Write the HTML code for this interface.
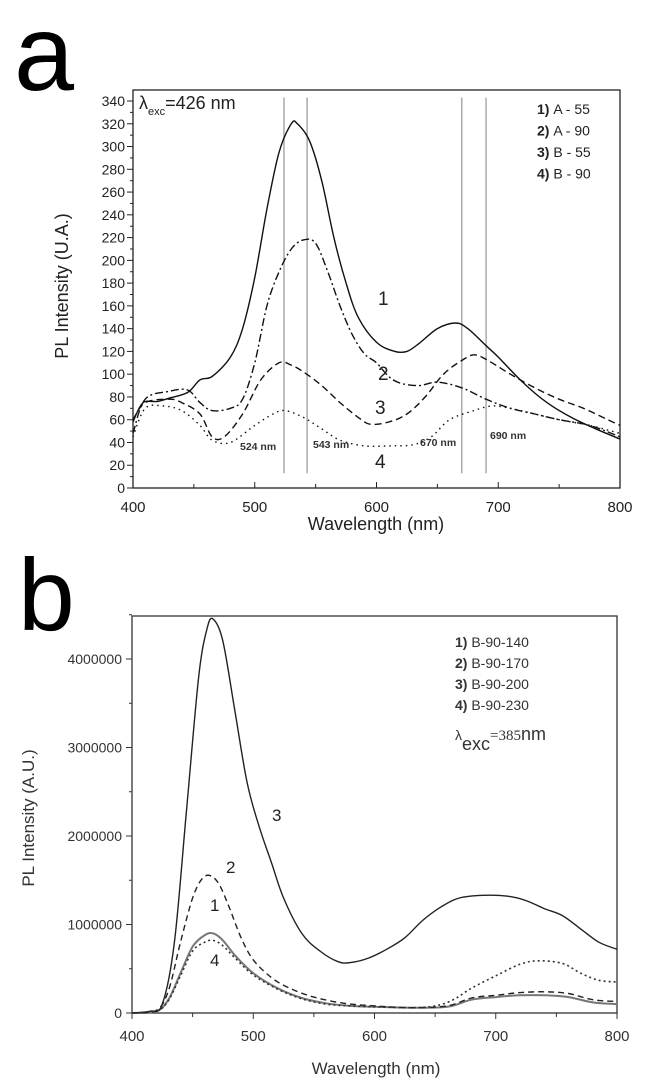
<!DOCTYPE html>
<html><head><meta charset="utf-8">
<style>
html,body{margin:0;padding:0;background:#fff;}
body{width:667px;height:1089px;overflow:hidden;}
svg{display:block;font-family:"Liberation Sans",Arial,sans-serif;}
</style></head>
<body>
<svg id="fig" width="667" height="1089" viewBox="0 0 667 1089">
<text x="14" y="90" font-size="108">a</text>
<text x="18" y="630" font-size="102">b</text>
<g id="chartA"></g>
<g id="chartB"></g>
</svg>
<script>
// ---- Chart A data ----
const aXTicks = [400,500,600,700,800];
const aYTicks = [0,20,40,60,80,100,120,140,160,180,200,220,240,260,280,300,320,340];
const aS1x = [400,405,410,420,430,445,455,465,480,490,500,510,520,530,535,545,555,565,575,585,600,615,625,635,650,665,675,690,700,720,740,760,780,800];
const aS1y = [58,70,76,76,79,84,95,98,115,140,185,245,295,320,320,305,270,220,180,150,128,120,120,127,140,145,140,125,115,93,75,62,52,43];
const aS2x = [400,410,430,445,455,465,480,490,500,510,520,530,540,550,560,570,580,590,600,610,620,635,650,670,690,710,730,750,775,800];
const aS2y = [48,78,85,86,75,68,70,78,110,160,190,210,218,215,190,160,135,118,110,98,92,90,93,88,78,70,65,60,55,45];
const aS3x = [400,410,430,440,455,465,475,490,505,520,530,540,555,570,585,595,610,625,640,655,670,680,690,710,730,750,770,790,800];
const aS3y = [60,75,78,75,65,45,45,65,95,110,108,102,90,75,62,56,58,65,80,100,112,117,113,100,88,78,70,60,55];
const aS4x = [400,410,425,440,455,465,480,500,515,525,540,555,570,590,610,630,645,660,680,695,710,730,750,775,800];
const aS4y = [45,70,72,68,55,42,40,55,65,68,62,52,42,37,37,38,45,60,68,72,70,65,60,55,48];
const aMarkers = [524,543,670,690];
const aLegend = ["A - 55","A - 90","B - 55","B - 90"];
// ---- Chart B data (units of 1e6) ----
const bXTicks = [400,500,600,700,800];
const bYTicks = [0,1,2,3,4];
const bYTickLabels = ["0","1000000","2000000","3000000","4000000"];
const bS3x = [400,415,425,435,445,455,462,467,475,485,495,505,515,525,540,555,570,580,595,610,625,640,655,670,690,710,725,740,755,770,785,800];
const bS3y = [0,0.02,0.1,0.8,2.3,3.8,4.35,4.45,4.2,3.4,2.6,2.1,1.7,1.3,0.9,0.7,0.58,0.57,0.62,0.72,0.85,1.05,1.2,1.3,1.33,1.32,1.27,1.18,1.1,0.95,0.8,0.72];
const bS2x = [400,420,430,440,450,458,465,472,480,490,500,515,530,550,575,600,630,660,680,700,720,740,760,780,800];
const bS2y = [0,0.03,0.25,0.8,1.3,1.52,1.55,1.45,1.2,0.85,0.6,0.4,0.28,0.18,0.11,0.08,0.06,0.08,0.17,0.2,0.23,0.24,0.22,0.15,0.13];
const bS1x = [400,420,430,440,450,460,467,475,485,500,520,540,560,580,600,630,660,680,700,720,740,760,780,800];
const bS1y = [0,0.02,0.15,0.45,0.75,0.88,0.9,0.82,0.65,0.45,0.28,0.17,0.11,0.08,0.07,0.06,0.07,0.15,0.18,0.2,0.2,0.18,0.12,0.1];
const bS4x = [400,420,430,440,450,460,467,475,485,500,520,540,560,580,600,630,650,665,680,700,720,735,755,770,785,800];
const bS4y = [0,0.02,0.14,0.42,0.7,0.8,0.82,0.76,0.62,0.43,0.27,0.16,0.1,0.08,0.07,0.06,0.08,0.15,0.28,0.42,0.55,0.59,0.56,0.45,0.37,0.35];
const bLegend = ["B-90-140","B-90-170","B-90-200","B-90-230"];

const NS="http://www.w3.org/2000/svg";
function mk(parent,tag,attrs,text){const e=document.createElementNS(NS,tag);for(const k in attrs)e.setAttribute(k,attrs[k]);if(text!==undefined)e.textContent=text;parent.appendChild(e);return e;}
function path(xs,ys,sx,sy){
  const P=xs.map((x,i)=>[sx(x),sy(ys[i])]);
  let d="M"+P[0][0].toFixed(1)+","+P[0][1].toFixed(1);
  for(let i=0;i<P.length-1;i++){
    const p0=P[Math.max(0,i-1)],p1=P[i],p2=P[i+1],p3=P[Math.min(P.length-1,i+2)];
    const c1=[p1[0]+(p2[0]-p0[0])/6,p1[1]+(p2[1]-p0[1])/6];
    const c2=[p2[0]-(p3[0]-p1[0])/6,p2[1]-(p3[1]-p1[1])/6];
    d+="C"+c1[0].toFixed(1)+","+c1[1].toFixed(1)+" "+c2[0].toFixed(1)+","+c2[1].toFixed(1)+" "+p2[0].toFixed(1)+","+p2[1].toFixed(1);
  }
  return d;
}

// ---- Chart A ----
(function(){
const g=document.getElementById('chartA');
const L=133,R=620,T=90,B=488;
const sx=v=>L+(v-400)/400*(R-L);
const sy=v=>B-(v/340)*(B-101);
let e=mk(g,'rect',{x:L,y:T,width:R-L,height:B-T,fill:'none',stroke:'#222','stroke-width':1.3});

aMarkers.forEach(m=>{const l=mk(g,'line',{x1:sx(m),x2:sx(m),y1:sy(343),y2:sy(13),stroke:'#aaa','stroke-width':1.5});
});
for(let v=0;v<=340;v+=10){const major=aYTicks.includes(v);mk(g,'line',{x1:L-(major?6:3),x2:L,y1:sy(v),y2:sy(v),stroke:'#222','stroke-width':1});}
aYTicks.forEach(v=>{const t=mk(g,'text',{x:L-8,y:sy(v)+5,'font-size':14,'text-anchor':'end',fill:'#222'},String(v));
});
for(let v=400;v<=800;v+=50){const major=aXTicks.includes(v);mk(g,'line',{x1:sx(v),x2:sx(v),y1:B,y2:B-(major?6:4),stroke:'#222','stroke-width':1});}
aXTicks.forEach(v=>{const t=mk(g,'text',{x:sx(v),y:B+24,'font-size':15,'text-anchor':'middle',fill:'#222'},String(v));
});
const st=[{x:aS1x,y:aS1y,d:''},{x:aS2x,y:aS2y,d:'8 3 2 3'},{x:aS3x,y:aS3y,d:'7 4'},{x:aS4x,y:aS4y,d:'1.5 4'}];
st.forEach((s,i)=>{const p=mk(g,'path',{d:path(s.x,s.y,sx,sy),fill:'none',stroke:'#111','stroke-width':1.4,'stroke-dasharray':s.d||'none'});
});
[[378,305,'1'],[378,380,'2'],[375,414,'3'],[375,468,'4']].forEach(a=>{const t=mk(g,'text',{x:a[0],y:a[1],'font-size':19,fill:'#222'},a[2]);
});
[[240,450,'524 nm'],[313,448,'543 nm'],[420,446,'670 nm'],[490,439,'690 nm']].forEach(a=>{const t=mk(g,'text',{x:a[0],y:a[1],'font-size':10.5,'font-weight':'bold',fill:'#333'},a[2]);
});
aLegend.forEach((s,i)=>{const t=mk(g,'text',{x:537,y:114+i*21.5,'font-size':14,fill:'#222'});

mk(t,'tspan',{'font-weight':'bold'},(i+1)+') ');mk(t,'tspan',{},s);});
const ex=mk(g,'text',{x:139,y:109,'font-size':18,fill:'#222'});

mk(ex,'tspan',{},'λ');mk(ex,'tspan',{'font-size':11,dy:6},'exc');mk(ex,'tspan',{dy:-6},'=426 nm');
const xt=mk(g,'text',{x:376,y:530,'font-size':18,'text-anchor':'middle',fill:'#222'},'Wavelength (nm)');

const yt=mk(g,'text',{x:0,y:0,'font-size':18,'text-anchor':'middle',fill:'#222',transform:'translate(68,286) rotate(-90)'},'PL Intensity (U.A.)');

})();

// ---- Chart B ----
(function(){
const g=document.getElementById('chartB');
const L=132,R=617,T=616,B=1013;
const sx=v=>L+(v-400)/400*(R-L);
const sy=v=>B-(v/4)*(B-659);
let e=mk(g,'rect',{x:L,y:T,width:R-L,height:B-T,fill:'none',stroke:'#333','stroke-width':1.3});

for(let v=0;v<=4.5;v+=0.5){const major=Number.isInteger(v);mk(g,'line',{x1:L-(major?6:3),x2:L,y1:sy(v),y2:sy(v),stroke:'#333','stroke-width':1});}
bYTicks.forEach((v,i)=>{const t=mk(g,'text',{x:L-10,y:sy(v)+5,'font-size':14,'text-anchor':'end',fill:'#333'},bYTickLabels[i]);
});
for(let v=400;v<=800;v+=50){const major=bXTicks.includes(v);mk(g,'line',{x1:sx(v),x2:sx(v),y1:B,y2:B+(major?6:4),stroke:'#333','stroke-width':1});}
bXTicks.forEach(v=>{const t=mk(g,'text',{x:sx(v),y:B+28,'font-size':15,'text-anchor':'middle',fill:'#333'},String(v));
});
const st=[{x:bS1x,y:bS1y,d:'',c:'#777',w:2},{x:bS2x,y:bS2y,d:'6 4',c:'#222',w:1.4},{x:bS3x,y:bS3y,d:'',c:'#222',w:1.4},{x:bS4x,y:bS4y,d:'2 3',c:'#333',w:1.6}];
st.forEach((s,i)=>{const p=mk(g,'path',{d:path(s.x,s.y,sx,sy),fill:'none',stroke:s.c,'stroke-width':s.w,'stroke-dasharray':s.d||'none'});
});
[[272,821,'3'],[226,873,'2'],[210,911,'1'],[210,966,'4']].forEach(a=>{const t=mk(g,'text',{x:a[0],y:a[1],'font-size':17,fill:'#222'},a[2]);
});
bLegend.forEach((s,i)=>{const t=mk(g,'text',{x:455,y:647+i*21,'font-size':14,fill:'#333'});

mk(t,'tspan',{'font-weight':'bold'},(i+1)+') ');mk(t,'tspan',{},s);});
const ex=mk(g,'text',{x:455,y:744,'font-size':18,fill:'#333'});

mk(ex,'tspan',{'font-size':14,dy:-4},'λ');mk(ex,'tspan',{dy:10},'exc');mk(ex,'tspan',{dy:-10,'font-family':'Liberation Serif','font-size':15},'=385');mk(ex,'tspan',{},'nm');
const xt=mk(g,'text',{x:376,y:1074,'font-size':17,'text-anchor':'middle',fill:'#333'},'Wavelength (nm)');

const yt=mk(g,'text',{x:0,y:0,'font-size':17,'text-anchor':'middle',fill:'#333',transform:'translate(34,818) rotate(-90)'},'PL Intensity (A.U.)');

})();
</script>
</body></html>
